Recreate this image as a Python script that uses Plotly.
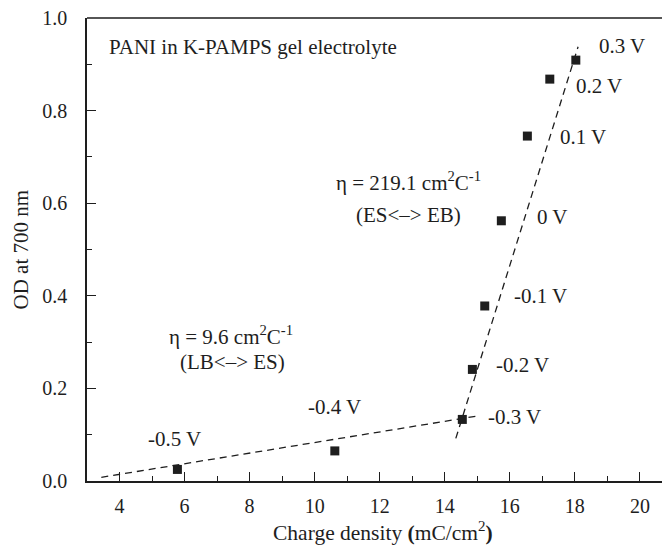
import plotly.graph_objects as go

# Measured optical density vs. charge density at each applied potential
charge = [5.78, 10.62, 14.54, 14.85, 15.23, 15.74, 16.54, 17.23, 18.03]
od = [0.025, 0.065, 0.133, 0.241, 0.378, 0.562, 0.745, 0.868, 0.909]
potentials = ["-0.5 V", "-0.4 V", "-0.3 V", "-0.2 V", "-0.1 V", "0 V", "0.1 V", "0.2 V", "0.3 V"]

# Linear fits for the two redox regimes (end points of each dashed line)
fit_lb_es_x = [3.44, 14.97]
fit_lb_es_y = [0.008, 0.140]
fit_es_eb_x = [14.34, 18.10]
fit_es_eb_y = [0.092, 0.938]

# Where each potential label sits (left edge, vertical centre)
label_x = [4.80, 9.72, 15.26, 15.51, 16.08, 16.77, 17.47, 17.97, 18.67]
label_y = [0.090, 0.160, 0.139, 0.251, 0.400, 0.571, 0.744, 0.853, 0.940]

INK = "#1e1e1e"
FONT = "Liberation Serif"
FS = 21

fig = go.Figure()

fig.add_trace(go.Scatter(x=fit_lb_es_x, y=fit_lb_es_y, mode="lines",
                         line=dict(color=INK, width=1.3, dash="7px,5px"),
                         showlegend=False, hoverinfo="skip"))
fig.add_trace(go.Scatter(x=fit_es_eb_x, y=fit_es_eb_y, mode="lines",
                         line=dict(color=INK, width=1.3, dash="7px,5px"),
                         showlegend=False, hoverinfo="skip"))
fig.add_trace(go.Scatter(x=charge, y=od, mode="markers",
                         marker=dict(symbol="square", size=9, color=INK),
                         showlegend=False))

for txt, lx, ly in zip(potentials, label_x, label_y):
    fig.add_annotation(x=lx, y=ly, text=txt, showarrow=False,
                       xanchor="left", yanchor="middle",
                       font=dict(family=FONT, size=FS, color=INK))

notes = [
    ("PANI in K-PAMPS gel electrolyte", 3.63, 0.938, "left"),
    ("η = 219.1 cm<sup>2</sup>C<sup>-1</sup>", 12.89, 0.646, "center"),
    ("(ES&lt;–&gt; EB)", 12.90, 0.575, "center"),
    ("η = 9.6 cm<sup>2</sup>C<sup>-1</sup>", 7.42, 0.315, "center"),
    ("(LB&lt;–&gt; ES)", 7.48, 0.258, "center"),
]
for txt, nx, ny, anchor in notes:
    fig.add_annotation(x=nx, y=ny, text=txt, showarrow=False,
                       xanchor=anchor, yanchor="middle",
                       font=dict(family=FONT, size=FS, color=INK))

# Axis titles
fig.add_annotation(xref="paper", yref="paper", x=-0.1165, y=0.5,
                   text="OD at 700 nm", textangle=-90, showarrow=False,
                   xanchor="center", yanchor="middle",
                   font=dict(family=FONT, size=FS, color=INK))
fig.add_annotation(xref="paper", yref="paper", x=0.514, y=-0.110,
                   text="Charge density <b>(</b>mC/cm<sup>2</sup><b>)</b>", showarrow=False,
                   xanchor="center", yanchor="middle",
                   font=dict(family=FONT, size=21.5, color=INK))

# Top frame line
fig.add_shape(type="line", xref="paper", yref="paper", x0=0, x1=1, y0=1, y1=1,
              line=dict(color=INK, width=1.5))

fig.update_xaxes(range=[3, 20.68], dtick=2, tick0=0, ticks="inside", ticklen=9,
                 tickwidth=1.3, tickcolor=INK, showline=True, linecolor=INK,
                 linewidth=1.5, showgrid=False, zeroline=False,
                 minor=dict(ticks="inside", ticklen=5, dtick=1, tick0=0,
                            tickcolor=INK, tickwidth=1.3, showgrid=False),
                 tickfont=dict(family=FONT, size=20, color=INK),
                 ticklabelstandoff=6)
fig.update_yaxes(range=[0, 1.0], dtick=0.2, tick0=0, ticks="inside", ticklen=9,
                 tickwidth=1.3, tickcolor=INK, showline=True, linecolor=INK,
                 linewidth=1.5, showgrid=False, zeroline=False, tickformat=".1f",
                 minor=dict(ticks="inside", ticklen=5, dtick=0.1, tick0=0,
                            tickcolor=INK, tickwidth=1.3, showgrid=False),
                 tickfont=dict(family=FONT, size=20, color=INK),
                 ticklabelstandoff=14)

fig.update_layout(width=662, height=551,
                  margin=dict(l=87, r=0, t=18, b=70),
                  plot_bgcolor="white", paper_bgcolor="white")

fig.write_html("out.html")
